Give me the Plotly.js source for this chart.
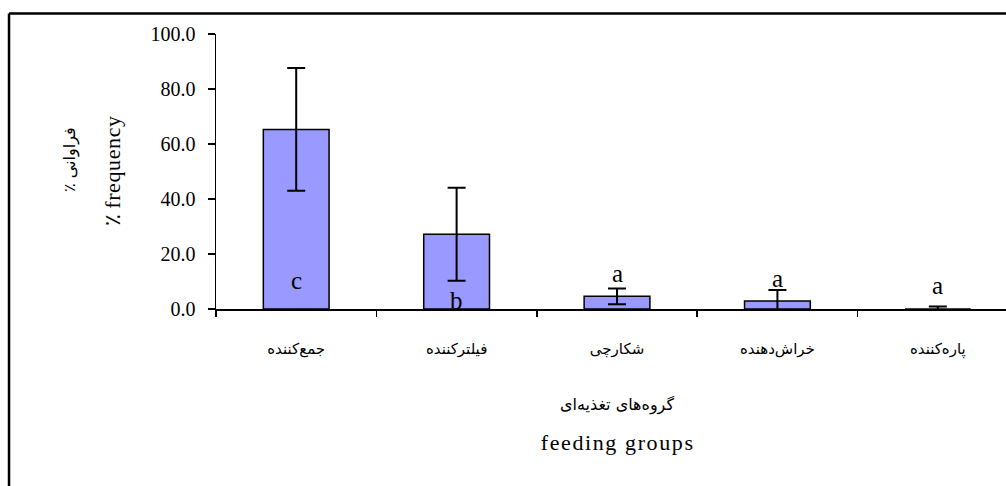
<!DOCTYPE html>
<html>
<head>
<meta charset="utf-8">
<script src="https://cdn.plot.ly/plotly-3.0.1.min.js"></script>
<style>
  html, body { margin: 0; padding: 0; background: #fff; overflow: hidden; }
  #chart { width: 1006px; height: 486px; }
  .annotation[data-index="8"] text { letter-spacing: 1.6px; }
  .annotation[data-index="6"] text { letter-spacing: 0.6px; }
</style>
</head>
<body>
<div id="chart"></div>
<script>
// ---- data ----
const categories = ["جمع‌کننده", "فیلترکننده", "شکارچی", "خراش‌دهنده", "پاره‌کننده"];
const frequency = [65.3, 27.2, 4.6, 2.9, 0.0];
const errors = [22.3, 16.9, 2.9, 4.0, 0.9];
const groupLetters = ["c", "b", "a", "a", "a"];
const yTickValues = [0, 20, 40, 60, 80, 100];
const yTitleFa = "\u200E٪ فراوانی";
const yTitleEn = "٪ frequency";
const xTitleFa = "گروه‌های تغذیه‌ای";
const xTitleEn = "feeding groups";

// ---- styling ----
const serif = "Liberation Serif, Times New Roman, serif";
const faFont = "DejaVu Sans, sans-serif";
const letterShift = [29, 9, 36, 31, 24];

const trace = {
  type: "bar",
  x: categories,
  y: frequency,
  width: 0.41,
  marker: { color: "#9999FF", line: { color: "#000", width: 1.5 } },
  error_y: { type: "data", array: errors, visible: true, color: "#000", thickness: 2, width: 9 },
  hoverinfo: "none",
  cliponaxis: true
};

const annotations = groupLetters.map((t, i) => ({
  x: categories[i], y: 0, xref: "x", yref: "y",
  text: t, showarrow: false, yanchor: "middle", yshift: letterShift[i],
  font: { family: serif, size: 25, color: "#000" }
}));

annotations.push(
  { xref: "paper", yref: "paper", x: -0.1848, y: 0.542, text: yTitleFa, textangle: -90,
    showarrow: false, xanchor: "center", yanchor: "middle",
    font: { family: faFont, size: 16, color: "#000" } },
  { xref: "paper", yref: "paper", x: -0.1316, y: 0.5, text: yTitleEn, textangle: -90,
    showarrow: false, xanchor: "center", yanchor: "middle",
    font: { family: serif, size: 22, color: "#000" } },
  { xref: "x", yref: "paper", x: categories[2], y: -0.349, text: xTitleFa,
    showarrow: false, xanchor: "center", yanchor: "middle",
    font: { family: faFont, size: 16, color: "#000" } },
  { xref: "x", yref: "paper", x: categories[2], y: -0.484, text: xTitleEn,
    showarrow: false, xanchor: "center", yanchor: "middle",
    font: { family: serif, size: 22, color: "#000" } }
);

const layout = {
  width: 1006, height: 486,
  margin: { l: 216, r: 0, t: 34, b: 177, pad: 0 },
  paper_bgcolor: "#fff", plot_bgcolor: "#fff",
  showlegend: false,
  xaxis: {
    type: "category", range: [-0.5, 4.425],
    showline: true, linecolor: "#000", linewidth: 1.5,
    ticks: "outside", ticklen: 6, tickwidth: 1.5, tickcolor: "#000",
    tickson: "boundaries", ticklabelstandoff: 25,
    showgrid: false, zeroline: false,
    tickfont: { family: faFont, size: 15, color: "#000" }
  },
  yaxis: {
    range: [0, 100], tickvals: yTickValues, tickformat: ".1f",
    showline: true, linecolor: "#000", linewidth: 1.5,
    ticks: "outside", ticklen: 7, tickwidth: 1.5, tickcolor: "#000",
    ticklabelstandoff: 8,
    showgrid: false, zeroline: false,
    tickfont: { family: serif, size: 20, color: "#000" }
  },
  annotations: annotations,
  shapes: [
    { type: "line", xref: "paper", yref: "paper", x0: -0.262, x1: 1.05, y0: 1.0745, y1: 1.0745,
      line: { color: "#000", width: 2.5 } },
    { type: "line", xref: "paper", yref: "paper", x0: -0.262, x1: -0.262, y0: 1.0745, y1: -0.7,
      line: { color: "#000", width: 2.5 } }
  ]
};

Plotly.newPlot("chart", [trace], layout, { displayModeBar: false, staticPlot: true });
</script>
</body>
</html>
